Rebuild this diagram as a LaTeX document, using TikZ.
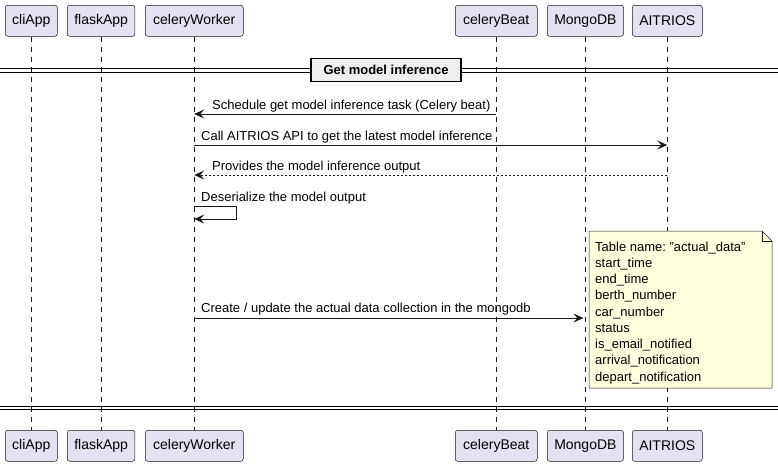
\documentclass[tikz,border=0pt]{standalone}
\usepackage{fontspec}
\setmainfont{Liberation Sans}
\usetikzlibrary{arrows.meta}
\definecolor{partfill}{HTML}{E2E2F0}
\definecolor{lineclr}{HTML}{181818}
\definecolor{notefill}{HTML}{FEFFDD}
\definecolor{divfill}{HTML}{EEEEEE}
\frenchspacing
\begin{document}
\begin{tikzpicture}[x=1pt,y=-1pt,
  part/.style={draw=lineclr,fill=partfill,rounded corners=2.5pt,line width=0.5pt,
    minimum height=31pt,inner xsep=7pt,inner ysep=0pt,font=\fontsize{14}{16}\selectfont,anchor=north west},
  life/.style={draw=lineclr,line width=0.5pt,dash pattern=on 5pt off 5pt},
  msg/.style={draw=lineclr,line width=0.8pt,-{Stealth[length=10pt,width=9pt,inset=4pt]}},
  reply/.style={msg,dash pattern=on 2pt off 2pt},
  lbl/.style={font=\fontsize{13}{15}\selectfont,inner sep=0pt,anchor=base west},
  divline/.style={draw=black,line width=1pt},
  divbox/.style={draw=black,fill=divfill,line width=1.5pt,font=\bfseries\fontsize{13}{15}\selectfont,
    minimum width=150pt,minimum height=23pt,inner sep=0pt},
  notebox/.style={draw=lineclr,fill=notefill,line width=0.5pt}
]
\useasboundingbox (0,0) rectangle (778,467);
% participants top
\node[part,minimum width=52pt] (cliT) at (5,5) {cliApp};
\node[part,minimum width=66pt] (flaskT) at (67,5) {flaskApp};
\node[part,minimum width=98pt] (workT) at (145,5) {celeryWorker};
\node[part,minimum width=82pt] (beatT) at (455,5) {celeryBeat};
\node[part,minimum width=75pt] (mongoT) at (547,5) {MongoDB};
\node[part,minimum width=69pt] (aiT) at (632,5) {AITRIOS};
% participants bottom
\node[part,minimum width=52pt] (cliB) at (5,430) {cliApp};
\node[part,minimum width=66pt] (flaskB) at (67,430) {flaskApp};
\node[part,minimum width=98pt] (workB) at (145,430) {celeryWorker};
\node[part,minimum width=82pt] (beatB) at (455,430) {celeryBeat};
\node[part,minimum width=75pt] (mongoB) at (547,430) {MongoDB};
\node[part,minimum width=69pt] (aiB) at (632,430) {AITRIOS};
% lifelines
\foreach \p in {cli,flask,work,beat,mongo,ai}
  \draw[life] (\p T.south) -- (\p B.north);
% dividers
\coordinate (dL1) at (0,68.5); \coordinate (dR1) at (778,68.5);
\coordinate (dL2) at (0,72); \coordinate (dR2) at (778,72);
\draw[divline] (dL1) -- (dR1);
\draw[divline] (dL2) -- (dR2);
\node[divbox] (div) at (386,70) {Get model inference};
\coordinate (eL1) at (0,406); \coordinate (eR1) at (778,406);
\coordinate (eL2) at (0,409.5); \coordinate (eR2) at (778,409.5);
\draw[divline] (eL1) -- (eR1);
\draw[divline] (eL2) -- (eR2);
% message endpoints
\coordinate (m1a) at (beatT.south |- 0,114);
\coordinate (m1b) at (workT.south |- 0,114);
\coordinate (m2a) at (workT.south |- 0,145);
\coordinate (m2b) at (aiT.south |- 0,145);
\coordinate (m3a) at (aiT.south |- 0,175);
\coordinate (m3b) at (workT.south |- 0,175);
\coordinate (m4a) at (workT.south |- 0,206);
\coordinate (m4b) at (workT.south |- 0,219);
\coordinate (m5a) at (workT.south |- 0,318);
\coordinate (m5b) at (mongoT.south |- 0,318);
% messages
\draw[msg] (m1a) -- (m1b);
\node[lbl] (t1) at (212,109) {Schedule get model inference task (Celery beat)};
\draw[msg] (m2a) -- (m2b);
\node[lbl] (t2) at (201,140) {Call AITRIOS API to get the latest model inference};
\draw[reply] (m3a) -- (m3b);
\node[lbl] (t3) at (212,170) {Provides the model inference output};
\draw[msg] (m4a) -- ++(42,0) |- (m4b);
\node[lbl] (t4) at (201,201) {Deserialize the model output};
\draw[msg,shorten >=2pt] (m5a) -- (m5b);
\node[lbl] (t5) at (201,312) {Create / update the actual data collection in the mongodb};
% note
\draw[notebox] (589,231) -- (762,231) -- (772,241) -- (772,388) -- (589,388) -- cycle;
\draw[notebox,fill=none] (762,231) -- (762,241) -- (772,241);
\node[inner sep=0pt,anchor=north west,align=left,font=\fontsize{13}{16.25}\selectfont] (note) at (595,241.5)
{Table name: "actual\_data"\\start\_time\\end\_time\\berth\_number\\car\_number\\status\\is\_email\_notified\\arrival\_notification\\depart\_notification};
\end{tikzpicture}
\end{document}
